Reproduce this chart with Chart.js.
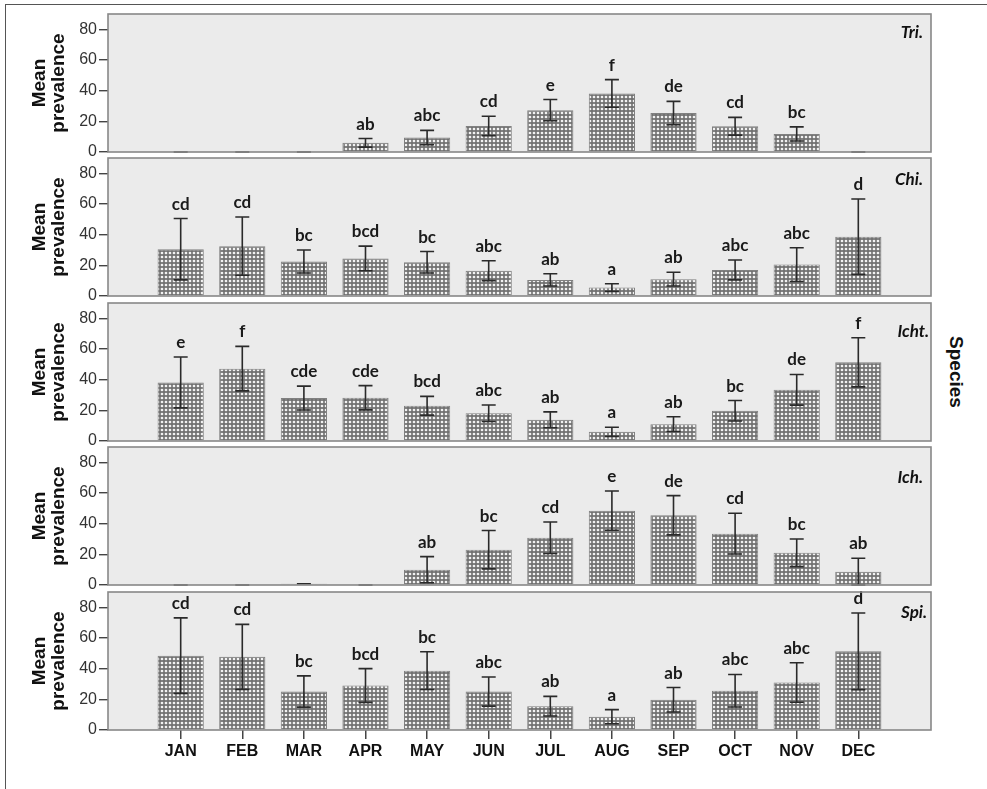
<!DOCTYPE html>
<html>
<head>
<meta charset="utf-8">
<script src="https://cdn.jsdelivr.net/npm/chart.js@4.4.1/dist/chart.umd.min.js"></script>
<style>
  html, body { margin: 0; padding: 0; background: #fff; }
  body { width: 987px; height: 789px; position: relative; overflow: hidden; }
  #frame { position: absolute; left: 5px; top: 4px; width: 1000px; height: 800px;
           border-left: 1px solid #555; border-top: 1px solid #555; }
  canvas.panel { position: absolute; left: 0; }
  #species { position: absolute; left: 956px; top: 372px; transform: translate(-50%, -50%) rotate(90deg);
             font: bold 19px "Liberation Sans", Arial, sans-serif; color: #111; white-space: nowrap; }
</style>
</head>
<body>
<div id="frame"></div>
<div id="species">Species</div>
<script>
// Months on the shared x axis and ticks on each y axis
const months = ["JAN", "FEB", "MAR", "APR", "MAY", "JUN", "JUL", "AUG", "SEP", "OCT", "NOV", "DEC"];
const yTicks = [0, 20, 40, 60, 80];

// Tri. : mean prevalence, half-width of the error bar, group letters
const triMean = [0, 0, 0, 6, 9.4, 17, 27.3, 38.2, 25.4, 16.8, 11.8, 0];
const triErr = [0, 0, 0, 2.8, 4.7, 6.3, 6.9, 9, 7.6, 5.8, 4.6, 0];
const triLetters = ["", "", "", "ab", "abc", "cd", "e", "f", "de", "cd", "bc", ""];

// Chi.
const chiMean = [30.5, 32.5, 22.5, 24.5, 22, 16.5, 10.5, 5.5, 11, 17, 20.5, 38.7];
const chiErr = [20, 19, 7.5, 8, 7, 6.5, 4, 2.5, 4.5, 6.5, 11, 24.6];
const chiLetters = ["cd", "cd", "bc", "bcd", "bc", "abc", "ab", "a", "ab", "abc", "abc", "d"];

// Icht.
const ichtMean = [38.2, 47.2, 28, 28.2, 23, 18.1, 13.8, 6, 11, 19.7, 33.4, 51.3];
const ichtErr = [16.6, 14.5, 7.8, 7.9, 6.1, 5.4, 5.2, 3, 4.8, 6.7, 10, 16];
const ichtLetters = ["e", "f", "cde", "cde", "bcd", "abc", "ab", "a", "ab", "bc", "de", "f"];

// Ich.
const ichMean = [0, 0, 0.8, 0, 10, 23, 30.8, 48.5, 45.5, 33.5, 21, 8.7];
const ichErr = [0, 0, 0, 0, 8.5, 12.5, 10.3, 12.8, 12.8, 13.3, 9, 8.7];
const ichLetters = ["", "", "", "", "ab", "bc", "cd", "e", "de", "cd", "bc", "ab"];

// Spi.
const spiMean = [48.5, 47.7, 25.1, 29, 38.7, 25.1, 15.5, 8.7, 19.7, 25.6, 31, 51.3];
const spiErr = [24.6, 21.2, 10.2, 11, 12.3, 9.5, 6.4, 4.6, 8, 10.6, 12.9, 25];
const spiLetters = ["cd", "cd", "bc", "bcd", "bc", "abc", "ab", "a", "ab", "abc", "abc", "d"];

const speciesNames = ["Tri.", "Chi.", "Icht.", "Ich.", "Spi."];

// Panel geometry (page pixels)
const panelTops = [14, 158, 303, 447, 592];
const PANEL_H = 138;
const nameOffsets = [19, 22, 29, 31, 21];
const nameRight = [923, 923, 929, 923, 927];

const SANS = '"Liberation Sans", Arial, sans-serif';

function hatchFor(ctx) {
  const c = document.createElement('canvas');
  c.width = 4; c.height = 4;
  const g = c.getContext('2d');
  g.fillStyle = '#727272';
  g.fillRect(0, 0, 4, 4);
  g.fillStyle = '#f2f2f2';
  g.beginPath();
  g.arc(2, 2, 1.35, 0, Math.PI * 2);
  g.fill();
  return ctx.createPattern(c, 'repeat');
}

const panelDecor = {
  id: 'panelDecor',
  beforeDraw(chart) {
    const { ctx, chartArea: a } = chart;
    ctx.save();
    ctx.fillStyle = '#ebebeb';
    ctx.fillRect(a.left, a.top, a.width, a.height);
    ctx.restore();
  },
  afterDatasetsDraw(chart, args, opts) {
    const { ctx, chartArea: a } = chart;
    const xs = chart.scales.x, ys = chart.scales.y;
    const ds = chart.data.datasets[0];
    ctx.save();
    // error bars
    ctx.strokeStyle = '#2a2a2a';
    ctx.lineWidth = 1.6;
    ds.data.forEach((p, i) => {
      const e = opts.err[i];
      const px = xs.getPixelForValue(p.x);
      const yHi = ys.getPixelForValue(p.y + e);
      const yLo = ys.getPixelForValue(Math.max(0, p.y - e));
      ctx.beginPath();
      ctx.moveTo(px, yHi); ctx.lineTo(px, yLo);
      ctx.moveTo(px - 7, yHi); ctx.lineTo(px + 7, yHi);
      ctx.moveTo(px - 7, yLo); ctx.lineTo(px + 7, yLo);
      ctx.stroke();
      // group letters above each error bar
      if (opts.letters[i]) {
        ctx.fillStyle = '#1a1a1a';
        ctx.font = 'bold 17px Lato, "Open Sans", sans-serif';
        ctx.textAlign = 'center';
        ctx.textBaseline = 'alphabetic';
        ctx.fillText(opts.letters[i], px, yHi - 9);
      }
    });
    // panel frame
    ctx.strokeStyle = '#888888';
    ctx.lineWidth = 1.6;
    ctx.strokeRect(a.left, a.top, a.width, a.height);
    // species name
    ctx.fillStyle = '#111';
    ctx.font = 'italic bold 17px Lato, "Open Sans", sans-serif';
    ctx.textAlign = 'right';
    ctx.textBaseline = 'middle';
    ctx.fillText(opts.name, opts.nameRight, a.top + opts.nameOffset);
    ctx.restore();
  }
};

function makePanel(idx, mean, err, letters) {
  const last = idx === 4;
  const cv = document.createElement('canvas');
  cv.className = 'panel';
  cv.width = 987;
  cv.height = 3 + PANEL_H + (last ? 45 : 10);
  cv.style.top = (panelTops[idx] - 3) + 'px';
  document.body.appendChild(cv);
  const ctx = cv.getContext('2d');

  new Chart(ctx, {
    type: 'bar',
    data: {
      datasets: [{
        data: mean.map((v, i) => ({ x: i, y: v })),
        backgroundColor: hatchFor(ctx),
        borderColor: '#808080',
        borderWidth: 1,
        barPercentage: 0.75,
        categoryPercentage: 1
      }]
    },
    options: {
      responsive: false,
      animation: false,
      events: [],
      layout: { padding: { left: 0, right: 56, top: 3, bottom: last ? 0 : 10 } },
      plugins: {
        legend: { display: false },
        tooltip: { enabled: false },
        panelDecor: {
          err, letters,
          name: speciesNames[idx],
          nameOffset: nameOffsets[idx],
          nameRight: nameRight[idx]
        }
      },
      scales: {
        x: {
          type: 'linear',
          min: -1.18, max: 12.18,
          offset: false,
          display: last,
          afterBuildTicks: s => { s.ticks = months.map((m, i) => ({ value: i })); },
          afterFit: s => { s.height = last ? 45 : 0; s.paddingLeft = 0; s.paddingRight = 0; },
          ticks: {
            autoSkip: false, maxRotation: 0, minRotation: 0, padding: 3,
            callback: v => months[v],
            color: '#111',
            font: { family: SANS, size: 16, weight: 'bold' }
          },
          grid: { offset: false, drawOnChartArea: false, drawTicks: true, tickLength: 9, tickColor: '#444', lineWidth: 1.5 },
          border: { display: false }
        },
        y: {
          min: 0, max: 90,
          afterBuildTicks: s => { s.ticks = yTicks.map(v => ({ value: v })); },
          afterFit: s => { s.width = 108; s.paddingTop = 0; s.paddingBottom = 0; },
          ticks: { padding: 2, color: '#333', font: { family: SANS, size: 16 } },
          grid: { drawOnChartArea: false, drawTicks: true, tickLength: 9, tickColor: '#444', lineWidth: 1.4 },
          border: { display: false },
          title: {
            display: true,
            text: ['Mean', 'prevalence'],
            color: '#111',
            font: { family: SANS, size: 19, weight: 'bold', lineHeight: 1.0 },
            padding: { top: 30, bottom: 0 }
          }
        }
      }
    },
    plugins: [panelDecor]
  });
}

makePanel(0, triMean, triErr, triLetters);
makePanel(1, chiMean, chiErr, chiLetters);
makePanel(2, ichtMean, ichtErr, ichtLetters);
makePanel(3, ichMean, ichErr, ichLetters);
makePanel(4, spiMean, spiErr, spiLetters);
</script>
</body>
</html>
